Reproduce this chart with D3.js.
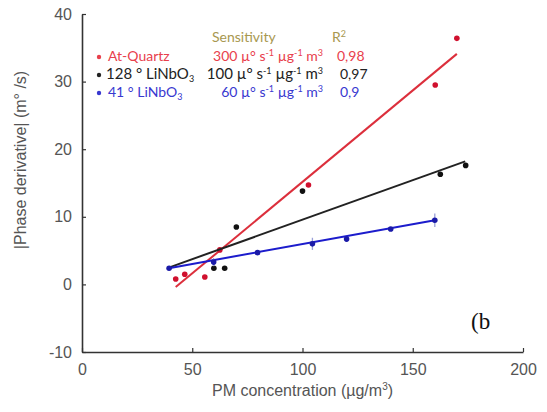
<!DOCTYPE html>
<html>
<head>
<meta charset="utf-8">
<script src="https://cdn.jsdelivr.net/npm/d3@7"></script>
<style>
    body { margin: 0; background: #fff; }
    text { font-family: "Liberation Sans", Arial, sans-serif; }
</style>
</head>
<body>
<div id="main"></div>
<script>
// data
const redX = [42.5, 46.6, 55.7, 62.5, 102.7, 160.2, 170];
const redY = [0.8, 1.5, 1.1, 5.1, 14.7, 29.5, 36.4];
const blackX = [59.8, 64.7, 70, 100, 162.5, 174];
const blackY = [2.4, 2.4, 8.5, 13.8, 16.3, 17.6];
const blueX = [39.5, 59.7, 79.6, 104.5, 120, 140, 160];
const blueY = [2.4, 3.3, 4.7, 6.0, 6.7, 8.2, 9.5];
const blueErr = [0, 0.6, 0, 0.9, 0, 0, 1.0];

// fitted lines [x0, y0, x1, y1]
const redFit = [42.5, -0.4, 170, 34.1];
const blackFit = [40.3, 2.6, 173.8, 18.2];
const blueFit = [39.4, 2.4, 160, 9.5];

const xTicks = [0, 50, 100, 150, 200];
const yTicks = [-10, 0, 10, 20, 30, 40];

const names = ["At-Quartz", "128 ° LiNbO", "41 ° LiNbO"];
const sensValues = ["300", "100", "60"];
const r2Values = ["0,98", "0,97", "0,9"];

let width = 547, height = 412;
const margin = {left: 82, top: 14, right: 24, bottom: 60};

let svg = d3.select("#main").append("svg")
    .attr("width", width)
    .attr("height", height);

let scaleX = d3.scaleLinear().domain([0, 200]).range([margin.left, width - margin.right]);
let scaleY = d3.scaleLinear().domain([-10, 40]).range([height - margin.bottom, margin.top]);

// axes (plain hyphen for negatives, like the original)
let fmt = function (d) { return String(d); };
let gx = svg.append("g")
    .attr("transform", "translate(0," + scaleY(-10) + ")")
    .call(d3.axisBottom(scaleX).tickValues(xTicks).tickFormat(fmt).tickSize(-4).tickSizeOuter(0).tickPadding(12));
let gy = svg.append("g")
    .attr("transform", "translate(" + scaleX(0) + ",0)")
    .call(d3.axisLeft(scaleY).tickValues(yTicks).tickFormat(fmt).tickSize(-4).tickSizeOuter(0).tickPadding(10));

[gx, gy].forEach(function (g) {
    g.select(".domain").attr("stroke", "#333").attr("stroke-width", 1.6);
    g.selectAll(".tick line").attr("stroke", "#333").attr("stroke-width", 1.2);
    g.selectAll(".tick text").attr("fill", "#555").style("font-size", "16px");
});

// axis titles
let xt = svg.append("text")
    .attr("x", (scaleX(0) + scaleX(200)) / 2)
    .attr("y", 396)
    .attr("text-anchor", "middle")
    .attr("fill", "#555")
    .style("font-size", "16px")
    .text("PM concentration (µg/m");
xt.append("tspan").attr("dy", -6).style("font-size", "10px").text("3");
xt.append("tspan").attr("dy", 6).text(")");

svg.append("text")
    .attr("transform", "translate(26," + 160 + ") rotate(-90)")
    .attr("text-anchor", "middle")
    .attr("fill", "#555")
    .style("font-size", "16px")
    .text("|Phase derivative| (m° /s)");

// fit lines + points
const series = [
    {xs: redX, ys: redY, fit: redFit, line: "#dc2f3c", dot: "#d0102e"},
    {xs: blackX, ys: blackY, fit: blackFit, line: "#222", dot: "#111"},
    {xs: blueX, ys: blueY, fit: blueFit, line: "#1c1ccc", dot: "#1a1aa8", err: blueErr}
];

series.forEach(function (s) {
    let pts = s.xs.map(function (x, i) { return [x, s.ys[i], s.err ? s.err[i] : 0]; });

    svg.append("path")
        .datum([[s.fit[0], s.fit[1]], [s.fit[2], s.fit[3]]])
        .attr("fill", "none")
        .attr("stroke", s.line)
        .attr("stroke-width", 2)
        .attr("d", d3.line()
            .x(function (d) { return scaleX(d[0]); })
            .y(function (d) { return scaleY(d[1]); })
        );

    svg.append("g").selectAll("line")
        .data(pts.filter(function (d) { return d[2] > 0; }))
        .join("line")
        .attr("x1", function (d) { return scaleX(d[0]); })
        .attr("x2", function (d) { return scaleX(d[0]); })
        .attr("y1", function (d) { return scaleY(d[1] - d[2]); })
        .attr("y2", function (d) { return scaleY(d[1] + d[2]); })
        .attr("stroke", "#9aa0d8")
        .attr("stroke-width", 1.3);

    svg.append("g").selectAll("circle")
        .data(pts)
        .join("circle")
        .attr("cx", function (d) { return scaleX(d[0]); })
        .attr("cy", function (d) { return scaleY(d[1]); })
        .attr("r", 2.8)
        .attr("fill", s.dot);
});

// legend
const legFont = "Lato, 'Open Sans', sans-serif";
const legColors = ["#e8404c", "#222", "#3838d0"];
const rowY = [61, 79, 97];

svg.append("text")
    .attr("x", 212).attr("y", 42)
    .attr("fill", "#a89850")
    .style("font-family", legFont).style("font-size", "14px")
    .text("Sensitivity");
let r2h = svg.append("text")
    .attr("x", 332).attr("y", 42)
    .attr("fill", "#a89850")
    .style("font-family", legFont).style("font-size", "14px")
    .text("R");
r2h.append("tspan").attr("dy", -5).style("font-size", "9px").text("2");

names.forEach(function (n, i) {
    let c = legColors[i];
    svg.append("circle").attr("cx", 99).attr("cy", rowY[i] - 4).attr("r", 2.2).attr("fill", c);

    let t = svg.append("text")
        .attr("x", i == 1 ? 106 : 108).attr("y", rowY[i])
        .attr("fill", c)
        .style("font-family", legFont).style("font-size", i == 1 ? "15px" : "14px")
        .text(n);
    if (i > 0) t.append("tspan").attr("dy", 3).style("font-size", "9px").text("3");

    let s = svg.append("text")
        .attr("x", 323).attr("y", rowY[i])
        .attr("text-anchor", "end")
        .attr("fill", c)
        .style("font-family", legFont).style("font-size", i == 1 ? "15px" : "14px")
        .text(sensValues[i] + " µ° s");
    s.append("tspan").attr("dy", -5).style("font-size", "9px").text("-1");
    s.append("tspan").attr("dy", 5).text(" µg");
    s.append("tspan").attr("dy", -5).style("font-size", "9px").text("-1");
    s.append("tspan").attr("dy", 5).text(" m");
    s.append("tspan").attr("dy", -5).style("font-size", "9px").text("3");

    svg.append("text")
        .attr("x", i == 0 ? 337 : 340).attr("y", rowY[i])
        .attr("fill", c)
        .style("font-family", legFont).style("font-size", "14px")
        .text(r2Values[i]);
});

// panel label
svg.append("text")
    .attr("x", 471).attr("y", 329)
    .attr("fill", "#111")
    .style("font-family", "'Liberation Serif', 'Times New Roman', serif")
    .style("font-size", "23px")
    .text("(b");
</script>
</body>
</html>
